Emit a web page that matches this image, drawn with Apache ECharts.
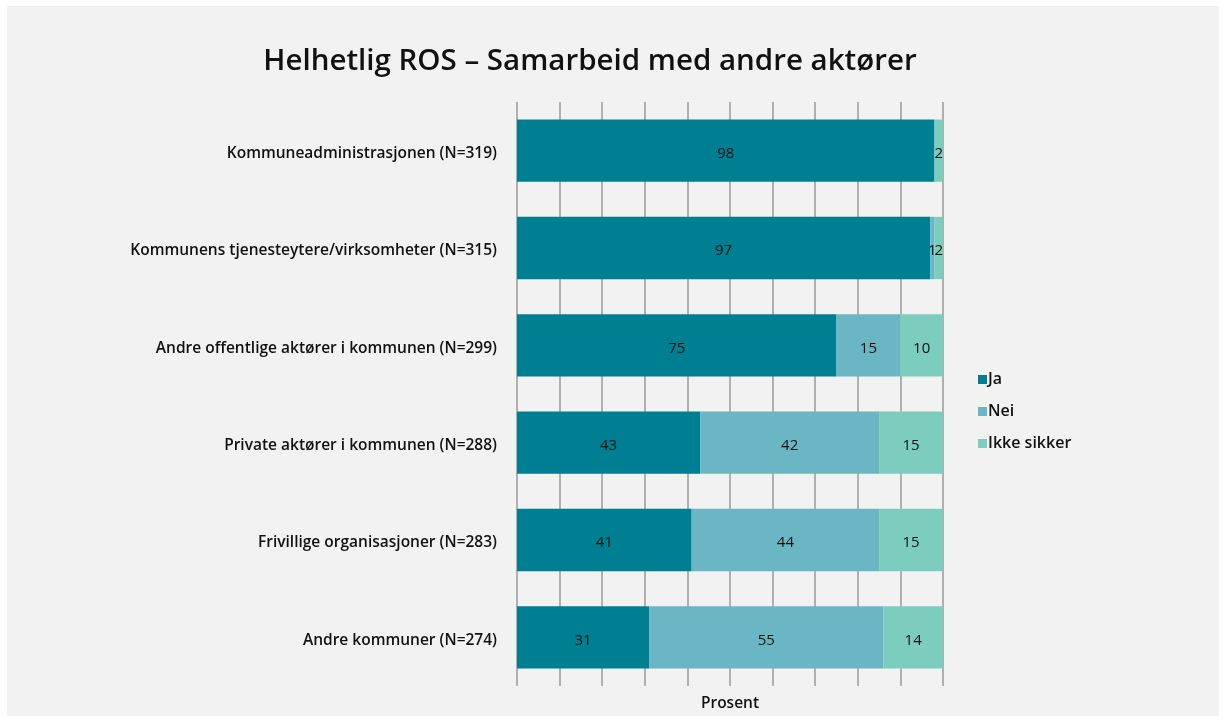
<!DOCTYPE html>
<html>
<head>
<meta charset="utf-8">
<script src="https://cdn.jsdelivr.net/npm/echarts@6/dist/echarts.min.js"></script>
<style>
  html, body { margin: 0; padding: 0; background: #fff; }
  #frame { position: absolute; left: 7px; top: 6px; width: 1212px; height: 710px; background: #f2f2f2; }
  #chart { position: absolute; left: -7px; top: -6px; width: 1226px; height: 722px; }
</style>
</head>
<body>
<div id="frame"><div id="chart"></div></div>
<script>
  const categories = [
    'Kommuneadministrasjonen (N=319)',
    'Kommunens tjenesteytere/virksomheter (N=315)',
    'Andre offentlige aktører i kommunen (N=299)',
    'Private aktører i kommunen (N=288)',
    'Frivillige organisasjoner (N=283)',
    'Andre kommuner (N=274)'
  ];
  const ja = [98, 97, 75, 43, 41, 31];
  const nei = [0, 1, 15, 42, 44, 55];
  const ikkeSikker = [2, 2, 10, 15, 15, 14];

  const font = '"Open Sans", sans-serif';
  const myChart = echarts.init(document.getElementById('chart'));

  const mkSeries = (name, data, color) => ({
    name: name,
    type: 'bar',
    stack: 'total',
    barWidth: '64%',
    data: data,
    itemStyle: { color: color },
    label: {
      show: true,
      position: 'inside',
      offset: [0, 3],
      color: '#111',
      fontFamily: font,
      fontSize: 15,
      formatter: (p) => (p.value > 0 ? p.value : '')
    }
  });

  const option = {
    backgroundColor: 'transparent',
    animation: false,
    title: {
      text: 'Helhetlig ROS – Samarbeid med andre aktører',
      left: 585,
      textAlign: 'center',
      top: 42,
      textStyle: { fontFamily: font, fontSize: 29.5, fontWeight: 600, color: '#111' }
    },
    legend: {
      orient: 'vertical',
      left: 973,
      top: 361,
      itemWidth: 9,
      itemHeight: 9,
      itemGap: 5,
      icon: 'rect',
      textStyle: { fontFamily: font, fontSize: 16, fontWeight: 600, color: '#111', lineHeight: 22, padding: [5, 0, 0, -4] },
      data: ['Ja', 'Nei', 'Ikke sikker']
    },
    grid: { left: 517, right: 283, top: 102, bottom: 36 },
    xAxis: {
      type: 'value',
      min: 0,
      max: 100,
      interval: 10,
      name: 'Prosent',
      nameLocation: 'middle',
      nameGap: 10,
      nameTextStyle: { fontFamily: font, fontSize: 15.5, fontWeight: 600, color: '#111' },
      axisLabel: { show: false },
      axisTick: { show: false },
      axisLine: { show: false },
      splitLine: { show: true, lineStyle: { color: '#9a9a9a', width: 1.5 } }
    },
    yAxis: {
      type: 'category',
      inverse: true,
      data: categories,
      axisLine: { show: false },
      axisTick: { show: false },
      axisLabel: {
        margin: 20,
        formatter: (v) => '{c|' + v + '}',
        rich: {
          c: { fontFamily: font, fontSize: 15.5, fontWeight: 600, color: '#111', padding: [6, 0, 0, 0] }
        }
      }
    },
    series: [
      mkSeries('Ja', ja, '#007f93'),
      mkSeries('Nei', nei, '#6bb6c5'),
      mkSeries('Ikke sikker', ikkeSikker, '#7dcdbe')
    ]
  };
  myChart.setOption(option);
</script>
</body>
</html>
